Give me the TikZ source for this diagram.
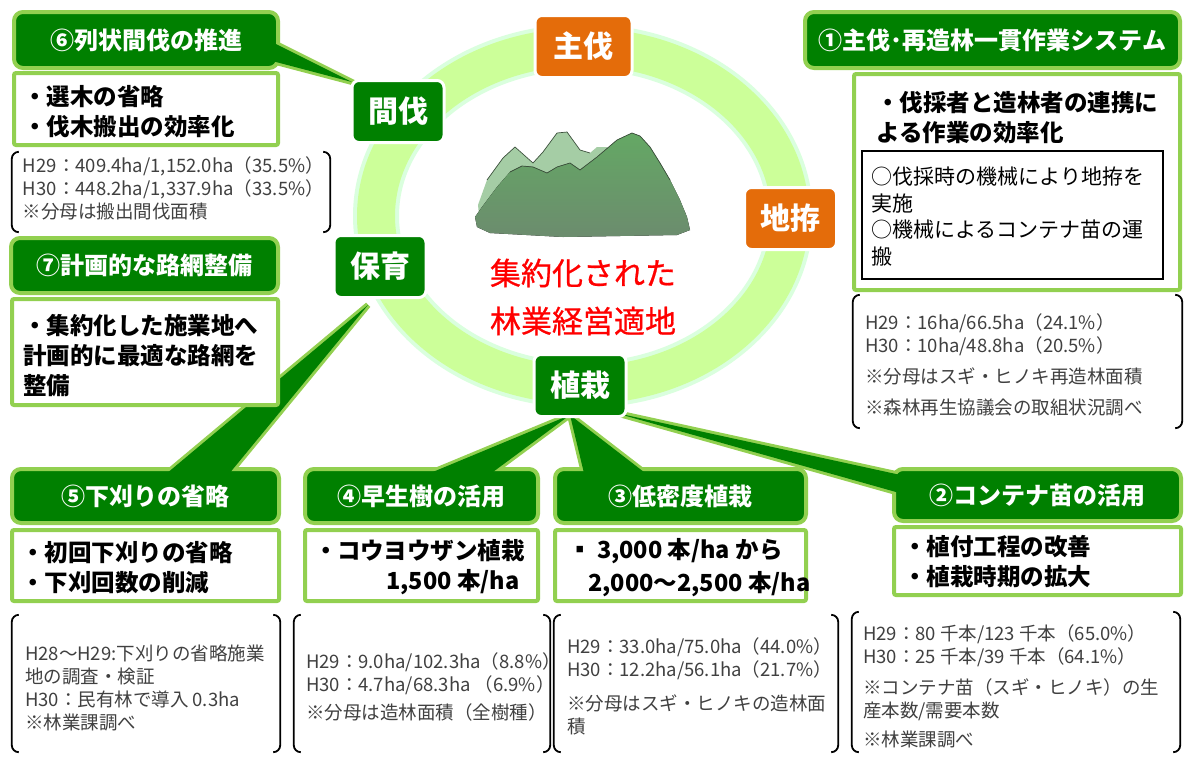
\documentclass[tikz,border=0pt]{standalone}
\usepackage{fontspec}
\usetikzlibrary{calc}

\newfontfamily\jp{Noto Sans CJK JP}
\newfontfamily\jpred{Noto Sans CJK JP}[FakeBold=0.7]
\newcommand{\fsz}[2]{\fontsize{#1}{#2}\selectfont}

\definecolor{dgreen}{RGB}{0,128,0}
\definecolor{lgreen}{RGB}{146,208,80}
\definecolor{orng}{RGB}{228,108,10}
\definecolor{ringfill}{RGB}{204,255,153}
\definecolor{ringedge}{RGB}{218,255,222}
\definecolor{txtgray}{RGB}{64,64,64}
\definecolor{mtback}{RGB}{165,205,165}
\definecolor{mttop}{RGB}{100,168,100}
\definecolor{mtbot}{RGB}{108,140,110}
\definecolor{mtline}{RGB}{60,80,60}

% [ ] pair drawn round a node
\newcommand{\brackpair}[1]{%
  \draw[brkline] ([xshift=7pt]#1.north west) arc[start angle=90, end angle=180, radius=7pt]
    -- ([yshift=7pt]#1.south west) arc[start angle=180, end angle=270, radius=7pt];
  \draw[brkline] ([xshift=-7pt]#1.north east) arc[start angle=90, end angle=0, radius=7pt]
    -- ([yshift=7pt]#1.south east) arc[start angle=0, end angle=-90, radius=7pt];}

\tikzset{
  head/.style={draw=lgreen, line width=4pt, fill=dgreen, rounded corners=9pt, text=white,
    font=\jp\bfseries\fsz{24}{24}, inner sep=0pt},
  body/.style={draw=lgreen, line width=4pt, fill=white, rounded corners=2pt, inner sep=0pt},
  bodytxt/.style={font=\jp\bfseries\fsz{23.5}{30}, align=left, inner sep=0pt, anchor=west},
  wedge/.style={draw=lgreen, line width=6pt, fill=dgreen, line join=miter},
  refill/.style={fill=dgreen},
  circ/.style={draw=white, line width=3pt, rounded corners=7pt, text=white,
    font=\jp\bfseries\fsz{30}{30}, inner sep=0pt, minimum width=92pt, minimum height=62pt},
  info/.style={font=\jp\fsz{18.5}{23}, text=txtgray, align=left, inner sep=0pt, anchor=west},
  brkline/.style={line width=1.8pt, black}
}

\begin{document}
\begin{tikzpicture}[x=1pt, y=-1pt]
    \fill[white] (0,0) rectangle (1189,756);
    \useasboundingbox (0,0) rectangle (1189,756);

    % ring
    \draw[ringedge, line width=46pt] (583,216) ellipse [x radius=207, y radius=169];
    \draw[ringfill, line width=38pt] (583,216) ellipse [x radius=207, y radius=169];

    % mountains
    \fill[mtback] (478,205) -- (487,180) -- (503,158) -- (515,147) -- (533,163) -- (543,152)
        -- (557,133) -- (567,132) -- (580,150) -- (590,153) -- (597,147) -- (607,147)
        -- (615,160) -- (600,200) -- (480,225) -- cycle;
    \draw[mtline, line width=0.7pt] (487,180) -- (503,158) -- (515,147) -- (533,163) -- (543,152)
        -- (557,133) -- (567,132) -- (580,150) -- (590,153);
    \fill[top color=mttop, bottom color=mtbot] (475,217) -- (482,207) -- (497,187) -- (510,172)
        -- (522,166) -- (533,167) -- (547,173) -- (557,167) -- (570,163) -- (580,170)
        -- (597,157) -- (617,140) -- (632,133) -- (640,136) -- (650,147) -- (660,163)
        -- (670,180) -- (680,200) -- (687,217) -- (690,230) -- (677,235) -- (563,237)
        -- (490,233) -- (477,227) -- cycle;
    \draw[mtline, line width=0.7pt] (510,172) -- (522,166) -- (533,167) -- (547,173) -- (557,167)
        -- (570,163) -- (580,170) -- (597,157) -- (617,140) -- (632,133) -- (640,136)
        -- (650,147) -- (660,163) -- (670,180);

    \node[font=\jpred\fsz{31}{48}, text=red, align=center] (ctr) at (583,297) {集約化された\\林業経営適地};

    % callout wedges
    \coordinate (t6) at (352,82);  \coordinate (a6) at (276,44);  \coordinate (c6) at (276,62);
    \coordinate (t5) at (368,305); \coordinate (a5) at (172,469); \coordinate (c5) at (233,469);
    \coordinate (t4) at (570,415); \coordinate (a4) at (440,469); \coordinate (c4) at (497,469);
    \coordinate (t3) at (570,415); \coordinate (a3) at (583,469); \coordinate (c3) at (640,469);
    \coordinate (t2) at (612,412); \coordinate (a2) at (896,474); \coordinate (c2) at (896,492);
    \foreach \w in {6,5,4,3,2}
        \draw[wedge] (t\w) -- (a\w) -- (c\w) -- cycle;

    % headers
    \node[head, minimum width=264pt, minimum height=56pt] (h6) at (146,40) {⑥列状間伐の推進};
    \node[head, minimum width=267pt, minimum height=55pt] (h7) at (144.5,265.5) {⑦計画的な路網整備};
    \node[head, minimum width=267pt, minimum height=54pt] (h5) at (145.5,496) {⑤下刈りの省略};
    \node[head, minimum width=233pt, minimum height=54pt] (h4) at (421.5,496) {④早生樹の活用};
    \node[head, minimum width=251pt, minimum height=54pt] (h3) at (680.5,496) {③低密度植栽};
    \node[head, minimum width=287pt, minimum height=52pt] (h2) at (1037.5,495) {②コンテナ苗の活用};
    \node[head, minimum width=375pt, minimum height=56pt] (h1) at (992.5,40) {①主伐･再造林一貫作業システム};

    % wedge joins over the header borders
    \foreach \w in {6,5,4,3,2}
        \fill[refill] (t\w) -- ($(t\w)!1.06!(a\w)$) -- ($(t\w)!1.06!(c\w)$) -- cycle;

    % white boxes
    \node[body, minimum width=264pt, minimum height=72pt] (b6) at (146,109) {};
    \node[bodytxt] (s6) at ([xshift=11pt, yshift=-3pt]b6.west) {・選木の省略\\・伐木搬出の効率化};
    \node[body, minimum width=266pt, minimum height=106pt] (b7) at (145,352) {};
    \node[bodytxt] (s7) at ([xshift=13pt, yshift=-4pt]b7.west) {・集約化した施業地へ\\計画的に最適な路網を\\整備};
    \node[body, minimum width=267pt, minimum height=71pt] (b5) at (145.5,565.5) {};
    \node[bodytxt] (s5) at ([xshift=11pt, yshift=-2pt]b5.west) {・初回下刈りの省略\\・下刈回数の削減};
    \node[body, minimum width=233pt, minimum height=71pt] (b4) at (421.5,565.5) {};
    \node[bodytxt] (s4) at ([xshift=11pt, yshift=-2pt]b4.west) {・コウヨウザン植栽\\\hspace*{72pt}1,500 本/ha};
    \node[body, minimum width=251pt, minimum height=71pt] (b3) at (680.5,565.5) {};
    \node[bodytxt] (s3) at ([xshift=15pt, yshift=-2pt]b3.west) {▪ 3,000 本/ha から\\[3pt]\hspace*{20pt}2,000～2,500 本/ha};
    \node[body, minimum width=287pt, minimum height=68pt] (b2) at (1037.5,561) {};
    \node[bodytxt] (s2) at ([xshift=11pt, yshift=-1pt]b2.west) {・植付工程の改善\\・植栽時期の拡大};
    \node[body, minimum width=326pt, minimum height=216pt] (b1) at (1017,182) {};
    \node[bodytxt] (s1) at (876,118) {・伐採者と造林者の連携に\\よる作業の効率化};
    \node[draw=black, line width=1.5pt, minimum width=301pt, minimum height=128pt, inner sep=0pt] (i1) at (1012.5,215) {};
    \node[font=\jp\fsz{21}{26.5}, align=left, inner sep=0pt, anchor=west] (u1) at ([xshift=10pt, yshift=-1.5pt]i1.west)
        {○伐採時の機械により地拵を\\実施\\○機械によるコンテナ苗の運\\搬};

    % bracketed figures
    \node[minimum width=318pt, minimum height=80pt, inner sep=0pt] (k6) at (171,192) {};
    \node[info] (d6) at ([xshift=11pt, yshift=4pt]k6.west)
        {H29：409.4ha/1,152.0ha（35.5\%）\\H30：448.2ha/1,337.9ha（33.5\%）\\※分母は搬出間伐面積};
    \node[minimum width=268pt, minimum height=137pt, inner sep=0pt] (k5) at (146,683.5) {};
    \node[info] (d5) at ([xshift=13pt, yshift=-4.5pt]k5.west)
        {H28～H29:下刈りの省略施業\\地の調査・検証\\H30：民有林で導入 0.3ha\\※林業課調べ};
    \node[minimum width=256pt, minimum height=137pt, inner sep=0pt] (k4) at (422,683.5) {};
    \node[info] (d4) at ([xshift=12pt, yshift=-3pt]k4.west)
        {H29：9.0ha/102.3ha（8.8\%）\\H30：4.7ha/68.3ha （6.9\%）\\[5pt]※分母は造林面積（全樹種）};
    \node[minimum width=284pt, minimum height=137pt, inner sep=0pt] (k3) at (696,683.5) {};
    \node[info] (d3) at ([xshift=13pt, yshift=-2.5pt]k3.west)
        {H29：33.0ha/75.0ha（44.0\%）\\H30：12.2ha/56.1ha（21.7\%）\\[11pt]※分母はスギ・ヒノキの造林面\\積};
    \node[minimum width=328pt, minimum height=140pt, inner sep=0pt] (k2) at (1016,682) {};
    \node[info] (d2) at ([xshift=11pt, yshift=-4pt]k2.west)
        {H29：80 千本/123 千本（65.0\%）\\H30：25 千本/39 千本（64.1\%）\\[8pt]※コンテナ苗（スギ・ヒノキ）の生\\産本数/需要本数\\[6pt]※林業課調べ};
    \node[minimum width=329pt, minimum height=133pt, inner sep=0pt] (k1) at (1017.5,361.5) {};
    \node[info] (d1) at ([xshift=12pt, yshift=-3pt]k1.west)
        {H29：16ha/66.5ha（24.1\%）\\H30：10ha/48.8ha（20.5\%）\\[8pt]※分母はスギ・ヒノキ再造林面積\\[8pt]※森林再生協議会の取組状況調べ};
    \foreach \k in {k6,k5,k4,k3,k2,k1}
        {\brackpair{\k}}

    % labels on the ring
    \node[circ, fill=orng, minimum width=97pt] (shubatsu) at (583.5,46.5) {主伐};
    \node[circ, fill=dgreen] (kanbatsu) at (398,111.5) {間伐};
    \node[circ, fill=orng] (jigoshirae) at (790.5,218.5) {地拵};
    \node[circ, fill=dgreen] (hoiku) at (380,266.5) {保育};
    \node[circ, fill=dgreen] (shokusai) at (580,385.5) {植栽};
\end{tikzpicture}
\end{document}
